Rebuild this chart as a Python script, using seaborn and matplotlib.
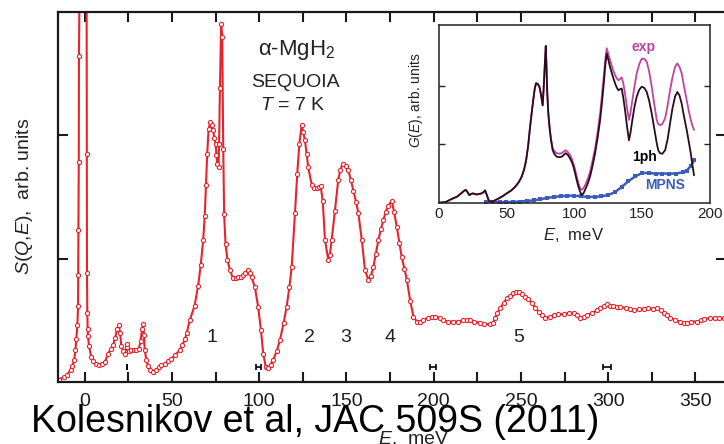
import matplotlib
matplotlib.use("Agg")
import matplotlib.pyplot as plt
import seaborn as sns
import numpy as np

# main spectrum S(Q,E)
energy = [-15, -12, -10, -8, -7, -6, -5.3, -4.8, -4.2, -3.8, -3.7, -3.6, -3.4, -3.3, -2.8, -1, 1.1,
          1.2, 1.3, 1.5, 1.7, 1.9, 2.5, 3.8, 5, 6.7, 8, 10, 11.5, 13.4, 15, 16.3, 17.5, 18.5, 19.5,
          20.3, 21, 22, 23, 24, 24.5, 25.2, 26.8, 28, 29.5, 31, 32, 32.9, 33.5, 34, 34.4, 35.3, 36.3,
          37.5, 39.2, 41, 42.5, 44, 46, 48, 49.7, 52, 54.5, 56, 57.5, 58.5, 60.2, 63, 65, 66.5, 67.9,
          68.8, 69.5, 70.2, 71, 72, 73, 73.6, 74.3, 75, 75.5, 75.9, 76.7, 77, 77.5, 78.2, 78.8, 79.4,
          79.9, 80.7, 81.8, 83.2, 85, 86.5, 88, 89.5, 90.8, 92, 93.3, 94.5, 95.6, 97.5, 99.4, 101,
          102.3, 103.8, 105, 106.5, 108, 110, 111.9, 114, 115.7, 117.3, 118.6, 120.5, 121.8, 123,
          124.3, 125.2, 126.2, 127.2, 128.1, 130.1, 131.5, 132.9, 134, 135.2, 136.4, 137.7, 139.6,
          140.5, 141.5, 143.4, 145.3, 146.5, 147.8, 149.5, 151, 152.5, 154, 155.5, 156.8, 158.8,
          160.6, 162.5, 164, 165.4, 166.8, 168.3, 169.7, 171.1, 172.5, 174, 175.9, 177.3, 178.8,
          180.3, 181.7, 183.2, 184.6, 186.5, 188.4, 190.3, 192, 194, 196.5, 198.9, 201, 203.5,
          205.6, 208, 211.3, 214, 216.5, 219, 221, 223, 226.6, 229, 232.4, 234, 235.2, 236.5, 238.1,
          240, 241.9, 243.8, 245.7, 247.2, 248.6, 250.5, 252.4, 254.3, 256.3, 258.2, 260.1, 262,
          264, 266.5, 268.7, 271.5, 274.5, 277.5, 280.2, 282, 284, 286, 287.8, 290.5, 293.6, 295.5,
          297.4, 299.3, 301.2, 303, 305, 307, 310, 312.7, 315, 317.5, 320.3, 323, 325.5, 328, 330,
          331.8, 333.5, 335.6, 338.5, 341.4, 343.5, 345.2, 347.5, 350.9, 353, 355, 358.6, 361,
          363.5, 366.2]
intensity = [0.02, 0.04, 0.06, 0.10, 0.13, 0.18, 0.26, 0.35, 0.46, 0.62, 0.87, 1.23, 1.78, 2.64, 3.4, 6.0, 3.3,
             1.85, 0.88, 0.56, 0.43, 0.37, 0.29, 0.20, 0.17, 0.15, 0.14, 0.15, 0.16, 0.23, 0.27, 0.30, 0.36, 0.43, 0.46,
             0.40, 0.29, 0.25, 0.23, 0.28, 0.31, 0.25, 0.26, 0.26, 0.26, 0.27, 0.33, 0.43, 0.47, 0.38, 0.26, 0.18, 0.13,
             0.10, 0.08, 0.10, 0.12, 0.14, 0.15, 0.17, 0.19, 0.22, 0.26, 0.30, 0.35, 0.40, 0.50, 0.62, 0.78, 0.95, 1.15,
             1.35, 1.60, 1.85, 2.05, 2.11, 2.08, 2.04, 1.98, 1.93, 1.84, 1.77, 1.74, 1.93, 2.38, 2.90, 2.80, 1.89,
             1.36, 1.12, 0.99, 0.91, 0.84, 0.84, 0.85, 0.85, 0.87, 0.88, 0.91, 0.88, 0.85, 0.77, 0.61, 0.42,
             0.23, 0.12, 0.11, 0.14, 0.18, 0.25, 0.34, 0.48, 0.61, 0.77, 0.93, 1.37, 1.69, 1.93,
             2.08, 2.03, 1.96, 1.85, 1.74, 1.60, 1.57, 1.57, 1.58, 1.59, 1.47, 1.15, 0.99,
             1.03, 1.15, 1.39, 1.64, 1.72, 1.77, 1.75, 1.72, 1.64, 1.55, 1.46, 1.37, 1.15,
             0.91, 0.83, 0.86, 0.93, 1.04, 1.15, 1.24, 1.31, 1.38, 1.43, 1.47, 1.38, 1.26,
             1.13, 1.01, 0.92, 0.83, 0.66, 0.53, 0.49, 0.49, 0.50, 0.52, 0.53, 0.53, 0.52,
             0.50, 0.49, 0.49, 0.49, 0.50, 0.50, 0.50, 0.49, 0.48, 0.47, 0.47, 0.48, 0.52, 0.56, 0.60,
             0.64, 0.68, 0.70, 0.72, 0.73, 0.73, 0.71, 0.69, 0.67, 0.64, 0.60, 0.57, 0.54,
             0.52, 0.53, 0.54, 0.55, 0.55, 0.56, 0.56, 0.54, 0.52, 0.53, 0.54, 0.56, 0.58, 0.60,
             0.62, 0.63, 0.62, 0.62, 0.61, 0.61, 0.60, 0.59, 0.58, 0.59, 0.59, 0.60, 0.59, 0.60, 0.58,
             0.56, 0.54, 0.52, 0.50, 0.49, 0.48, 0.48, 0.49, 0.49, 0.50, 0.51, 0.52, 0.52,
             0.52, 0.52]

# peak labels and resolution marks
peak_labels = ["1", "2", "3", "4", "5"]
peak_pos = [72.9, 128.5, 149.7, 175, 248.4]
res_pos = [24.5, 99.5, 199.5, 299.5]
res_width = [0.0, 1.3, 1.8, 2.3]

# inset G(E): common low-energy part, then 1ph and exp branches
g_low_e = [0, 5, 8.4, 11, 13.3, 15.5, 17, 18.5, 19.9, 21, 22.6, 24, 25, 26.5, 28, 30, 31.7, 33, 34.2,
           35.2, 36.7, 38, 39.1, 41.5, 44, 47, 50.2, 53.5, 56.3, 59, 61.3, 63, 64.5, 66, 67.4, 68.7,
           69.9, 70.8, 71.8, 73, 74.3, 75.5, 76.7, 77.4, 78.2, 79, 79.5, 80]
g_low = [0, 0.01, 0.05, 0.08, 0.10, 0.14, 0.17, 0.20, 0.22, 0.19, 0.13, 0.15, 0.16, 0.15, 0.14, 0.15, 0.16, 0.18, 0.21,
         0.15, 0.05, 0.02, 0.02, 0.04, 0.07, 0.11, 0.16, 0.21, 0.27, 0.35, 0.45, 0.57, 0.73, 0.98, 1.30, 1.56,
         1.79, 1.95, 2.05, 2.04, 1.99, 1.85, 1.67, 1.95, 2.33, 2.69, 2.35, 1.93]
g_hi_e = [80.8, 81.7, 82.8, 84.1, 85.5, 87.1, 89, 90.8, 92.3, 93.7, 95.3, 96.9, 98.2, 99.4, 100.6, 101.8,
          103, 104.3, 105.5, 106.8, 108, 110, 111.7, 113.5, 115.4, 117.3, 119.1, 120.6, 122, 123, 124,
          125.2, 126.4, 128.3, 130.1, 131.5, 132.6, 134, 135, 136.2, 137.5, 139, 140.4, 141.5, 142.9,
          144.5, 146.1, 148, 149.8, 151.7, 153.5, 155.3, 157.2, 159, 160.9, 162, 163.3, 165, 167.1,
          169, 170.7, 172.5, 174.4, 176.1, 177.7, 179.3, 181, 183, 184.5, 186, 187.2, 188.4]
g_1ph = [1.55, 1.30, 1.08, 0.90, 0.83, 0.79, 0.78, 0.79, 0.82, 0.85, 0.82, 0.76, 0.70, 0.62, 0.51, 0.39,
         0.28, 0.19, 0.13, 0.16, 0.22, 0.33, 0.45, 0.63, 0.85, 1.12, 1.42, 1.75, 2.10, 2.38, 2.56,
         2.45, 2.33, 2.18, 2.05, 1.97, 1.93, 1.95, 1.96, 1.80, 1.59, 1.30, 1.07, 1.20, 1.42,
         1.65, 1.82, 1.94, 1.99, 1.97, 1.90, 1.75, 1.53, 1.28, 1.02, 0.90, 0.85, 0.84, 0.90,
         1.10, 1.36, 1.62, 1.82, 1.90, 1.84, 1.70, 1.48, 1.25, 1.05, 0.85, 0.65, 0.47]
g_exp = [1.57, 1.33, 1.11, 0.93, 0.88, 0.85, 0.84, 0.85, 0.88, 0.90, 0.87, 0.82, 0.75, 0.67, 0.57, 0.45,
         0.34, 0.25, 0.22, 0.25, 0.30, 0.41, 0.53, 0.72, 0.93, 1.22, 1.53, 1.88, 2.22, 2.48, 2.65,
         2.55, 2.45, 2.30, 2.19, 2.13, 2.10, 2.13, 2.15, 2.05, 1.87, 1.62, 1.42, 1.55, 1.76,
         2.00, 2.22, 2.38, 2.47, 2.47, 2.42, 2.25, 1.99, 1.70, 1.42, 1.35, 1.33, 1.35, 1.45,
         1.68, 1.93, 2.15, 2.33, 2.39, 2.33, 2.22, 2.00, 1.76, 1.58, 1.42, 1.32, 1.25]
mpns_e = [35, 40, 45, 50, 55, 60, 65, 70, 75, 80, 85, 90, 95, 100, 105, 110, 115, 120, 125, 130,
          135, 140, 145, 150, 155, 160, 165, 170, 175, 180, 183, 186, 188.5]
mpns = [0.01, 0.01, 0.01, 0.01, 0.015, 0.02, 0.03, 0.04, 0.06, 0.08, 0.10, 0.11, 0.12, 0.12, 0.11, 0.10,
        0.10, 0.11, 0.13, 0.18, 0.27, 0.37, 0.45, 0.51, 0.51, 0.50, 0.50, 0.50, 0.50, 0.52, 0.55, 0.63, 0.73]

RED = "#e8232b"
MAGENTA = "#c2429e"
BLUE = "#3b5cb8"
DARK = "#2a0c1c"

sns.set_theme(style="ticks")
plt.rcParams["font.family"] = ["Liberation Sans", "DejaVu Sans"]
plt.rcParams["mathtext.fontset"] = "custom"
plt.rcParams["mathtext.rm"] = "Liberation Sans"
plt.rcParams["mathtext.it"] = "Liberation Sans:italic"

fig = plt.figure(figsize=(7.24, 4.44), dpi=100)
ax = fig.add_axes([0.0801, 0.1396, 0.9227, 0.8333])

sns.lineplot(x=energy, y=intensity, ax=ax, color=RED, lw=1.5, marker="o", markersize=3.0,
             markerfacecolor="white", markeredgecolor=RED, markeredgewidth=0.8, sort=False)

ax.set_xlim(-15.3, 367.5)
ax.set_ylim(0, 3.0)
ax.set_xticks(np.arange(0, 351, 25))
ax.set_xticklabels([str(v) if v % 50 == 0 else "" for v in range(0, 351, 25)])
ax.set_yticks([1, 2])
ax.set_yticklabels([])
ax.tick_params(direction="in", length=7, width=1.5, top=True, right=True,
               labelsize=14, pad=8, colors="#1a1a1a")
for s in ax.spines.values():
    s.set_linewidth(1.6)
    s.set_color("#1a1a1a")

# resolution marks
ax.errorbar(res_pos, [0.12] * len(res_pos), xerr=res_width, fmt="none", ecolor="black",
            elinewidth=1.2, capsize=2.5, capthick=1.2)

for lab, x in zip(peak_labels, peak_pos):
    ax.text(x, 0.36, lab, fontsize=14, ha="center", va="center", color="#222222")

ax.text(121.6, 2.69, "α-MgH$_2$", fontsize=16, ha="center", va="center", color="#222222")
ax.text(120.5, 2.43, "SEQUOIA", fontsize=14, ha="center", va="center", color="#222222")
ax.text(119.3, 2.24, "$T$ = 7 K", fontsize=14, ha="center", va="center", color="#222222")

fig.text(25 / 724, 1 - 196 / 444, "$S$($Q$,$E$),  arb. units", rotation=90, fontsize=14,
         ha="center", va="center", color="#222222")
fig.text(414 / 724, 1 - 438 / 444, "$E$,  meV", fontsize=14, ha="center", va="center", color="#222222")
fig.text(31 / 724, 1 - 432 / 444, "Kolesnikov et al, JAC 509S (2011)", fontsize=27,
         ha="left", va="baseline", color="black")

# inset
axin = fig.add_axes([0.606, 0.5435, 0.3743, 0.4002])
axin.set_facecolor("white")
sns.lineplot(x=mpns_e, y=mpns, ax=axin, color=BLUE, lw=1.8, marker="s", markersize=3,
             markeredgewidth=0, sort=False)
sns.lineplot(x=g_low_e + g_hi_e, y=g_low + g_exp, ax=axin, color=MAGENTA, lw=1.3, sort=False)
sns.lineplot(x=g_low_e + g_hi_e, y=g_low + g_1ph, ax=axin, color=DARK, lw=1.3, sort=False)
axin.set_xlim(0, 200)
axin.set_ylim(0, 3.05)
axin.set_xticks([0, 50, 100, 150, 200])
axin.set_yticks([1, 2])
axin.set_yticklabels([])
axin.tick_params(axis="x", direction="in", length=0, labelsize=11, pad=3, colors="#222222")
axin.tick_params(axis="y", direction="in", length=4, width=1, left=True, right=True, colors="#222222")
for s in axin.spines.values():
    s.set_linewidth(1.1)
    s.set_color("#222222")
axin.set_xlabel("")
axin.set_ylabel("")
axin.text(151, 2.68, "exp", color=MAGENTA, fontsize=10, fontweight="bold", ha="center", va="center")
axin.text(151.5, 0.78, "1ph", color="black", fontsize=10, fontweight="bold", ha="center", va="center")
axin.text(167, 0.30, "MPNS", color=BLUE, fontsize=10, fontweight="bold", ha="center", va="center")
fig.text(574 / 724, 1 - 235 / 444, "$E$,  meV", fontsize=12, ha="center", va="center", color="#222222")
fig.text(416 / 724, 1 - 100 / 444, "$G$($E$), arb. units", rotation=90, fontsize=10,
         ha="center", va="center", color="#222222")

fig.savefig("out.png", dpi=100)
